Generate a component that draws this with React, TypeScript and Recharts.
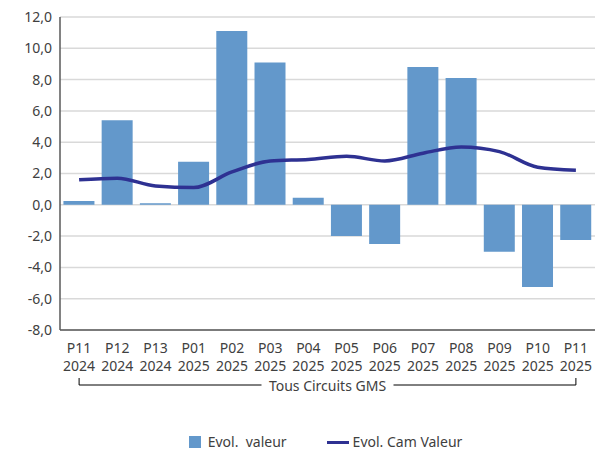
import { ComposedChart, Bar, Line, XAxis, YAxis, CartesianGrid, Legend } from 'recharts';

const periods = ['P11', 'P12', 'P13', 'P01', 'P02', 'P03', 'P04', 'P05', 'P06', 'P07', 'P08', 'P09', 'P10', 'P11'];
const years = ['2024', '2024', '2024', '2025', '2025', '2025', '2025', '2025', '2025', '2025', '2025', '2025', '2025', '2025'];
const evolValeur = [0.25, 5.4, 0.1, 2.75, 11.1, 9.1, 0.45, -2.0, -2.5, 8.8, 8.1, -3.0, -5.25, -2.25];
const evolCamValeur = [1.6, 1.7, 1.2, 1.1, 2.1, 2.8, 2.9, 3.1, 2.8, 3.3, 3.7, 3.4, 2.4, 2.2];
const yTicks = [-8, -6, -4, -2, 0, 2, 4, 6, 8, 10, 12];
const groupLabel = 'Tous Circuits GMS';

const data = periods.map((p, i) => ({
  name: `${p} ${years[i]}`,
  valeur: evolValeur[i],
  cam: evolCamValeur[i],
}));

const FONT = '"Noto Sans", sans-serif';
const TEXT = '#404040';
const BAR = '#6398CB';
const LINE = '#2E3192';

function PeriodTick({ x, y, payload }: any) {
  const [p, yr] = String(payload.value).split(' ');
  return (
    <g>
      <text x={x} y={y + 17} textAnchor="middle" dominantBaseline="central" fontFamily={FONT} fontSize={14} fill={TEXT}>{p}</text>
      <text x={x} y={y + 35} textAnchor="middle" dominantBaseline="central" fontFamily={FONT} fontSize={14} fill={TEXT}>{yr}</text>
    </g>
  );
}

function GroupBracket({ viewBox }: any) {
  if (!viewBox) return null;
  const { x, y, width } = viewBox;
  const step = width / periods.length;
  const x1 = x + step / 2;
  const x2 = x + width - step / 2;
  const ly = y + 55;
  const cx = x + width / 2;
  return (
    <g>
      <path d={`M${x1},${ly - 7}V${ly}H${x2}V${ly - 7}`} fill="none" stroke="#000" strokeWidth={1} />
      <rect x={cx - 66} y={ly - 8} width={132} height={18} fill="#fff" />
      <text x={cx} y={ly} textAnchor="middle" dominantBaseline="central" fontFamily={FONT} fontSize={14} fill={TEXT}>{groupLabel}</text>
    </g>
  );
}

function LegendContent() {
  return (
    <div style={{ display: 'flex', justifyContent: 'center', alignItems: 'center', fontFamily: FONT, fontSize: 14, lineHeight: '20px', color: TEXT, height: 20, paddingLeft: 56 }}>
      <span style={{ display: 'inline-block', width: 12, height: 12, background: BAR, marginRight: 7 }} />
      <span style={{ whiteSpace: 'pre', marginRight: 40 }}>Evol.  valeur</span>
      <span style={{ display: 'inline-block', width: 22, height: 3, background: LINE, marginRight: 4 }} />
      <span>Evol. Cam Valeur</span>
    </div>
  );
}

export default function App() {
  return (
    <div style={{ position: 'absolute', left: 0, top: 0, width: 595, height: 452, background: '#fff' }}>
      <ComposedChart width={595} height={452} data={data} margin={{ top: 17, right: 0, left: 0, bottom: 0 }} barCategoryGap="9%">
        <CartesianGrid vertical={false} stroke="#d9d9d9" strokeWidth={1.5} />
        <XAxis
          dataKey="name"
          interval={0}
          height={102}
          tickLine={false}
          tickSize={0}
          tickMargin={0}
          stroke="#595959"
          strokeWidth={1.5}
          tick={<PeriodTick />}
          label={<GroupBracket />}
        />
        <YAxis
          width={60}
          domain={[-8, 12]}
          ticks={yTicks}
          tickLine={false}
          tickSize={0}
          tickMargin={8}
          stroke="#595959"
          strokeWidth={1.5}
          tick={{ fontFamily: FONT, fontSize: 14, fill: TEXT }}
          tickFormatter={(v: number) => v.toFixed(1).replace('.', ',')}
          allowDataOverflow
        />
        <Legend verticalAlign="bottom" height={20} content={<LegendContent />} />
        <Bar dataKey="valeur" name="Evol.  valeur" fill={BAR} isAnimationActive={false} />
        <Line dataKey="cam" name="Evol. Cam Valeur" type="monotone" stroke={LINE} strokeWidth={3.5} dot={false} isAnimationActive={false} />
      </ComposedChart>
    </div>
  );
}
